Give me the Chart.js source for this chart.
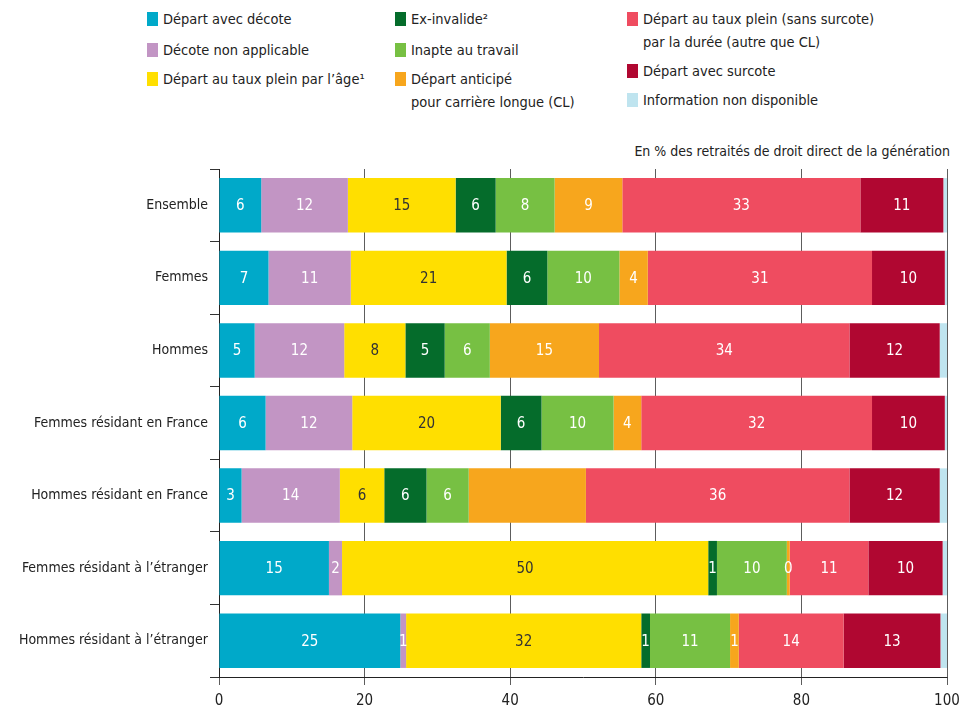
<!DOCTYPE html>
<html lang="fr">
<head>
<meta charset="utf-8">
<script src="https://cdn.jsdelivr.net/npm/chart.js@4"></script>
<style>
  body { margin: 0; background: #fff; font-family: "Liberation Sans Narrow", "DejaVu Sans Condensed", "Roboto", sans-serif; color: #222; }
  #wrap { position: relative; width: 961px; height: 711px; overflow: hidden; }
  .leg { position: absolute; font-size: 14.5px; line-height: 23px; white-space: nowrap; }
  .leg i { position: absolute; left: -16px; top: 4px; width: 11px; height: 14px; }
  #note { position: absolute; right: 11px; top: 143px; font-size: 14px; }
  #chartBox { position: absolute; left: 0; top: 120px; width: 961px; height: 591px; }
</style>
</head>
<body>
<div id="wrap">
  <div id="legend"></div>
  <div id="note">En % des retraités de droit direct de la génération</div>
  <div id="chartBox"><canvas id="retraitesChart"></canvas></div>
</div>
<script>
const categories = [
  "Ensemble",
  "Femmes",
  "Hommes",
  "Femmes résidant en France",
  "Hommes résidant en France",
  "Femmes résidant à l’étranger",
  "Hommes résidant à l’étranger"
];

const decote         = [5.8, 6.8, 4.9, 6.4, 3.1, 15.1, 24.9];
const nonApplicable  = [11.9, 11.3, 12.3, 11.9, 13.5, 1.8, 0.8];
const pleinAge       = [14.8, 21.4, 8.4, 20.4, 6.1, 50.3, 32.3];
const exInvalide     = [5.5, 5.6, 5.4, 5.6, 5.8, 1.2, 1.2];
const inapte         = [8.1, 9.9, 6.2, 9.9, 5.8, 9.6, 11.0];
const carriereLongue = [9.3, 3.9, 15.0, 3.8, 16.1, 0.4, 1.2];
const pleinDuree     = [32.7, 30.8, 34.4, 31.7, 36.2, 10.8, 14.4];
const surcote        = [11.4, 10.0, 12.4, 10.0, 12.4, 10.2, 13.3];
const nonDispo       = [0.5, 0.3, 1.0, 0.3, 1.0, 0.6, 0.9];

// value labels not printed in the source (series index, category index)
const noLabel = [[5, 4]];

const xTicks = [0, 20, 40, 60, 80, 100];

const series = [
  { label: "Départ avec décote", data: decote, color: "#00a9c9", text: "#fff" },
  { label: "Décote non applicable", data: nonApplicable, color: "#c295c4", text: "#fff" },
  { label: "Départ au taux plein par l’âge¹", data: pleinAge, color: "#ffdf00", text: "#333" },
  { label: "Ex-invalide²", data: exInvalide, color: "#056c2b", text: "#fff" },
  { label: "Inapte au travail", data: inapte, color: "#77c043", text: "#fff" },
  { label: "Départ anticipé\npour carrière longue (CL)", data: carriereLongue, color: "#f7a61d", text: "#fff" },
  { label: "Départ au taux plein (sans surcote)\npar la durée (autre que CL)", data: pleinDuree, color: "#ef4c60", text: "#fff" },
  { label: "Départ avec surcote", data: surcote, color: "#b00731", text: "#fff" },
  { label: "Information non disponible", data: nonDispo, color: "#bfe4ef", text: null }
];

// legend: 3 columns, same order as the source
const legendPos = [
  [163, 8], [163, 39], [163, 68],
  [411, 8], [411, 39], [411, 68],
  [643, 8], [643, 60], [643, 89]
];
const legend = document.getElementById("legend");
series.forEach((s, i) => {
  const d = document.createElement("div");
  d.className = "leg";
  d.style.left = legendPos[i][0] + "px";
  d.style.top = legendPos[i][1] + "px";
  d.innerHTML = `<i style="background:${s.color}"></i>` + s.label.replace("\n", "<br>");
  legend.appendChild(d);
});

const fontFamily = '"Liberation Sans Narrow", "DejaVu Sans Condensed", "Roboto", sans-serif';

const barLabels = {
  id: "barLabels",
  afterDatasetsDraw(chart) {
    const ctx = chart.ctx;
    ctx.save();
    ctx.font = "15px " + fontFamily;
    ctx.textAlign = "center";
    ctx.textBaseline = "middle";
    chart.data.datasets.forEach((ds, di) => {
      if (!series[di].text) return;
      chart.getDatasetMeta(di).data.forEach((bar, ci) => {
        if (noLabel.some(p => p[0] === di && p[1] === ci)) return;
        const c = bar.getCenterPoint();
        ctx.fillStyle = series[di].text;
        ctx.fillText(Math.round(ds.data[ci]), c.x, c.y + 1);
      });
    });
    ctx.restore();
  }
};

new Chart(document.getElementById("retraitesChart"), {
  type: "bar",
  data: {
    labels: categories,
    datasets: series.map(s => ({
      label: s.label,
      data: s.data,
      backgroundColor: s.color,
      borderWidth: 0,
      categoryPercentage: 1,
      barPercentage: 0.75
    }))
  },
  plugins: [barLabels],
  options: {
    indexAxis: "y",
    responsive: true,
    maintainAspectRatio: false,
    animation: false,
    layout: { padding: { top: 49, right: 0, left: 0, bottom: 0 } },
    plugins: { legend: { display: false }, tooltip: { enabled: false } },
    scales: {
      x: {
        stacked: true,
        min: 0,
        max: 100,
        afterBuildTicks: axis => { axis.ticks = xTicks.map(v => ({ value: v })); },
        afterFit: axis => { axis.height = 34; axis.paddingRight = 14; axis.paddingLeft = 0; },
        grid: { color: "#333", lineWidth: 0.8, tickLength: 8, drawTicks: true },
        border: { color: "#222", width: 1 },
        ticks: { color: "#222", padding: 7, font: { family: fontFamily, size: 15 } }
      },
      y: {
        stacked: true,
        afterFit: axis => { axis.width = 219; },
        grid: { offset: true, drawOnChartArea: false, color: "#333", tickLength: 9 },
        border: { color: "#222", width: 1 },
        ticks: { color: "#222", padding: 2, font: { family: fontFamily, size: 14 } }
      }
    }
  }
});
</script>
</body>
</html>
